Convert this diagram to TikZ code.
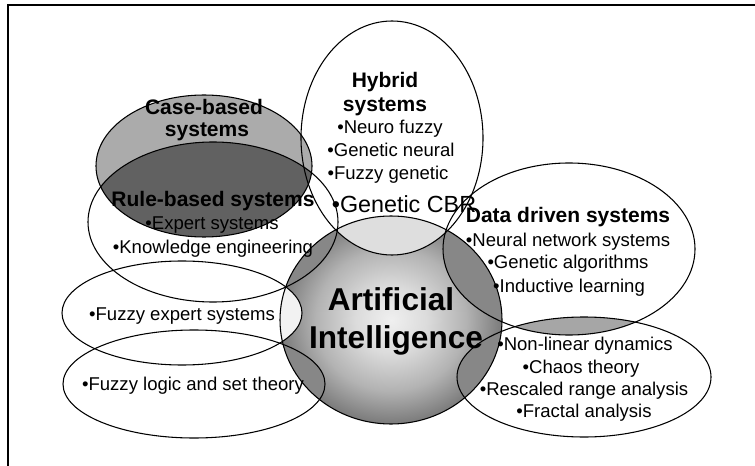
\documentclass[tikz,border=0pt]{standalone}
\usepackage{fontspec}
\setmainfont{Liberation Sans}
\colorlet{casefill}{black!33}
\colorlet{rulecasefill}{black!62}
\colorlet{rimcol}{black!52}
\colorlet{midcol}{black!30}
\colorlet{coreA}{black!6}
\colorlet{coreB}{black!14}
\colorlet{lightov}{black!13}
\colorlet{paleov}{black!5}
\colorlet{darkov}{black!47}
\colorlet{sliver}{black!35}
\pgfdeclareradialshading{aisphere}{\pgfpoint{0bp}{0bp}}{color(0bp)=(coreA); color(8bp)=(coreB); color(17bp)=(midcol); color(25bp)=(rimcol); color(50bp)=(rimcol)}
\newcommand{\ellCase}{(204,166) ellipse [x radius=108,y radius=71]}
\newcommand{\ellRule}{(213,222) ellipse [x radius=125,y radius=80]}
\newcommand{\ellHyb}{(392,138) ellipse [x radius=91,y radius=117]}
\newcommand{\ellData}{(569,249) ellipse [x radius=126,y radius=86]}
\newcommand{\ellChaos}{(584,377) ellipse [x radius=127,y radius=60]}
\newcommand{\ellAI}{(391,320) ellipse [x radius=111,y radius=104]}
\newcommand{\ellFE}{(182,313) ellipse [x radius=120,y radius=52]}
\newcommand{\ellFL}{(194,384) ellipse [x radius=131,y radius=54]}
\begin{document}
\begin{tikzpicture}[x=0.75pt,y=-0.75pt,
  outline/.style={draw=black,line width=0.8pt},
  framestyle/.style={draw=black,line width=1.4pt},
  head/.style={font=\bfseries\fontsize{15.75}{18}\selectfont,anchor=base,inner sep=0pt},
  item/.style={font=\fontsize{13.9}{16}\selectfont,anchor=base,inner sep=0pt},
  bigitem/.style={font=\fontsize{17.5}{20}\selectfont,anchor=base,inner sep=0pt},
  aitext/.style={font=\bfseries\fontsize{23.7}{28}\selectfont,anchor=base,inner sep=0pt}]
\useasboundingbox (0,0) rectangle (755,466);
\fill[white] (0,0) rectangle (755,466);
% frame
\coordinate (fr1) at (755,5);
\coordinate (fr2) at (8,5);
\coordinate (fr3) at (8,466);
\draw[framestyle] (fr1) -- (fr2) -- (fr3);
% fills
\fill[casefill] \ellCase;
\begin{scope}
  \clip \ellCase;
  \fill[rulecasefill] \ellRule;
\end{scope}
\begin{scope}
  \clip \ellData;
  \fill[sliver] \ellChaos;
\end{scope}
\shade[shading=aisphere] \ellAI;
\begin{scope}
  \clip \ellAI;
  \fill[darkov] \ellRule;
  \fill[darkov] \ellData;
  \fill[darkov] \ellChaos;
  \fill[darkov] \ellFL;
  \fill[lightov] \ellHyb;
  \fill[paleov] \ellFE;
\end{scope}
% outlines
\draw[outline] \ellCase;
\draw[outline] \ellRule;
\draw[outline] \ellHyb;
\draw[outline] \ellData;
\draw[outline] \ellChaos;
\draw[outline] \ellFE;
\draw[outline] \ellFL;
\draw[outline] \ellAI;
% texts
\node[head] (cb1) at (204,115) {Case-based};
\node[head] (cb2) at (207,137) {systems};
\node[head] (hy1) at (385,88) {Hybrid};
\node[head] (hy2) at (385,112) {systems};
\node[item] (hy3) at (390,134) {•Neuro fuzzy};
\node[item] (hy4) at (391,157) {•Genetic neural};
\node[item] (hy5) at (388,180) {•Fuzzy genetic};
\node[bigitem] (hy6) at (404,213) {•Genetic CBR};
\node[head] (rb1) at (213,207) {Rule-based systems};
\node[item] (rb2) at (212,230) {•Expert systems};
\node[item] (rb3) at (213,253) {•Knowledge engineering};
\node[head] (dd1) at (568,223) {Data driven systems};
\node[item] (dd2) at (568,247) {•Neural network systems};
\node[item] (dd3) at (568,268) {•Genetic algorithms};
\node[item] (dd4) at (569,292) {•Inductive learning};
\node[item] (ch1) at (585,350) {•Non-linear dynamics};
\node[item] (ch2) at (581,373) {•Chaos theory};
\node[item] (ch3) at (584,395) {•Rescaled range analysis};
\node[item] (ch4) at (584,417) {•Fractal analysis};
\node[item] (fe1) at (182,320) {•Fuzzy expert systems};
\node[item] (fl1) at (193,390) {•Fuzzy logic and set theory};
\node[aitext] (ai1) at (391,310) {Artificial};
\node[aitext] (ai2) at (396,348) {Intelligence};
\end{tikzpicture}
\end{document}
